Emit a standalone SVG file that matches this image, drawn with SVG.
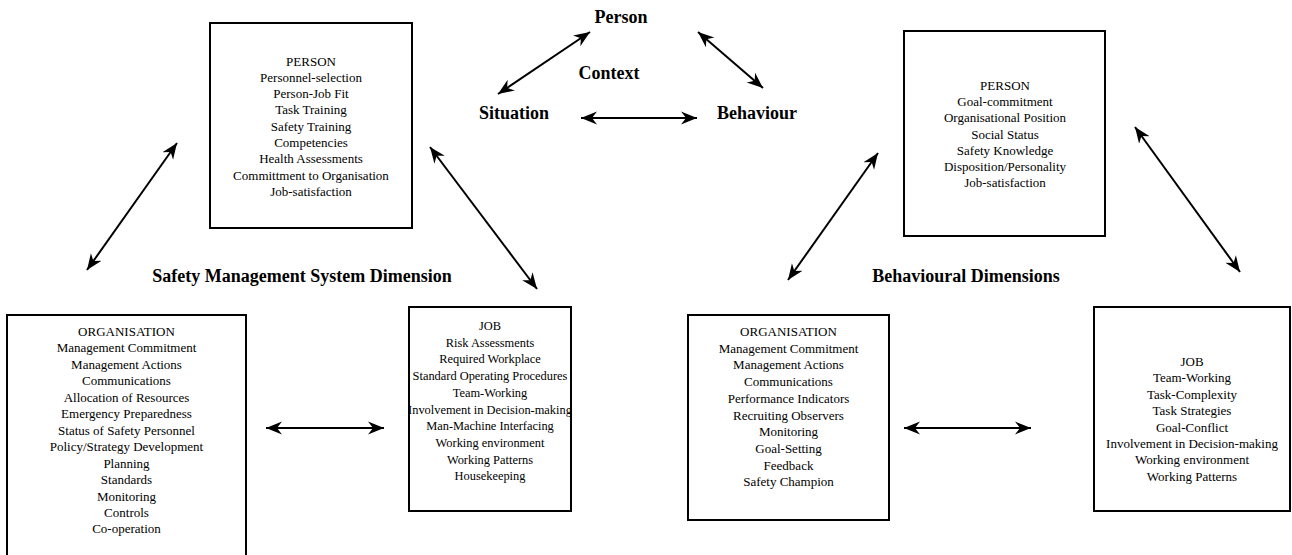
<svg xmlns="http://www.w3.org/2000/svg" width="1292" height="555" viewBox="0 0 1292 555">
<style>
.box{fill:#fff;stroke:#000;stroke-width:2}
.t{font-family:"Liberation Serif","Times New Roman",serif;font-size:13px;fill:#000;text-anchor:middle}
.s{font-size:12.4px}
.b{font-family:"Liberation Serif","Times New Roman",serif;font-size:18px;font-weight:bold;fill:#000;text-anchor:middle}
.c{stroke:#000;stroke-width:2;fill:none;marker-start:url(#ah);marker-end:url(#ah)}
</style>
<defs>
<marker id="ah" markerUnits="userSpaceOnUse" markerWidth="17" markerHeight="15" refX="16" refY="7.5" orient="auto-start-reverse">
<path d="M0,1 L16,7.5 L0,14 L5,7.5 z" fill="#000"/>
</marker>
</defs>
<rect width="1292" height="555" fill="#fff"/>

<g id="labels">
<text class="b" x="621" y="23">Person</text>
<text class="b" x="609" y="79">Context</text>
<text class="b" x="514" y="119">Situation</text>
<text class="b" x="757" y="119">Behaviour</text>
<text class="b" x="302" y="282">Safety Management System Dimension</text>
<text class="b" x="966" y="282">Behavioural Dimensions</text>
</g>

<g id="sms-person">
<rect class="box" x="210" y="23" width="202" height="205"/>
<text class="t" x="311" y="65.5">PERSON</text>
<text class="t" x="311" y="81.8">Personnel-selection</text>
<text class="t" x="311" y="98.1">Person-Job Fit</text>
<text class="t" x="311" y="114.4">Task Training</text>
<text class="t" x="311" y="130.7">Safety Training</text>
<text class="t" x="311" y="147">Competencies</text>
<text class="t" x="311" y="163.3">Health Assessments</text>
<text class="t" x="311" y="179.6">Committment to Organisation</text>
<text class="t" x="311" y="195.9">Job-satisfaction</text>
</g>

<g id="sms-organisation">
<rect class="box" x="7" y="315" width="239" height="250"/>
<text class="t" x="126.5" y="336">ORGANISATION</text>
<text class="t" x="126.5" y="352.45">Management Commitment</text>
<text class="t" x="126.5" y="368.9">Management Actions</text>
<text class="t" x="126.5" y="385.35">Communications</text>
<text class="t" x="126.5" y="401.8">Allocation of Resources</text>
<text class="t" x="126.5" y="418.25">Emergency Preparedness</text>
<text class="t" x="126.5" y="434.7">Status of Safety Personnel</text>
<text class="t" x="126.5" y="451.15">Policy/Strategy Development</text>
<text class="t" x="126.5" y="467.6">Planning</text>
<text class="t" x="126.5" y="484.05">Standards</text>
<text class="t" x="126.5" y="500.5">Monitoring</text>
<text class="t" x="126.5" y="516.95">Controls</text>
<text class="t" x="126.5" y="533.4">Co-operation</text>
</g>

<g id="sms-job">
<rect class="box" x="409" y="307" width="162" height="204"/>
<text class="t s" x="490" y="330">JOB</text>
<text class="t s" x="490" y="346.7">Risk Assessments</text>
<text class="t s" x="490" y="363.4">Required Workplace</text>
<text class="t s" x="490" y="380.1">Standard Operating Procedures</text>
<text class="t s" x="490" y="396.8">Team-Working</text>
<text class="t s" x="490" y="413.5">Involvement in Decision-making</text>
<text class="t s" x="490" y="430.2">Man-Machine Interfacing</text>
<text class="t s" x="490" y="446.9">Working environment</text>
<text class="t s" x="490" y="463.6">Working Patterns</text>
<text class="t s" x="490" y="480.3">Housekeeping</text>
</g>

<g id="beh-person">
<rect class="box" x="904" y="31" width="201" height="205"/>
<text class="t" x="1005" y="90">PERSON</text>
<text class="t" x="1005" y="106.2">Goal-commitment</text>
<text class="t" x="1005" y="122.4">Organisational Position</text>
<text class="t" x="1005" y="138.6">Social Status</text>
<text class="t" x="1005" y="154.8">Safety Knowledge</text>
<text class="t" x="1005" y="171">Disposition/Personality</text>
<text class="t" x="1005" y="187.2">Job-satisfaction</text>
</g>

<g id="beh-organisation">
<rect class="box" x="688" y="315" width="201" height="205"/>
<text class="t" x="788.5" y="336">ORGANISATION</text>
<text class="t" x="788.5" y="352.7">Management Commitment</text>
<text class="t" x="788.5" y="369.4">Management Actions</text>
<text class="t" x="788.5" y="386.1">Communications</text>
<text class="t" x="788.5" y="402.8">Performance Indicators</text>
<text class="t" x="788.5" y="419.5">Recruiting Observers</text>
<text class="t" x="788.5" y="436.2">Monitoring</text>
<text class="t" x="788.5" y="452.9">Goal-Setting</text>
<text class="t" x="788.5" y="469.6">Feedback</text>
<text class="t" x="788.5" y="486.3">Safety Champion</text>
</g>

<g id="beh-job">
<rect class="box" x="1094" y="307" width="196" height="204"/>
<text class="t" x="1192" y="366">JOB</text>
<text class="t" x="1192" y="382.4">Team-Working</text>
<text class="t" x="1192" y="398.8">Task-Complexity</text>
<text class="t" x="1192" y="415.2">Task Strategies</text>
<text class="t" x="1192" y="431.6">Goal-Conflict</text>
<text class="t" x="1192" y="448">Involvement in Decision-making</text>
<text class="t" x="1192" y="464.4">Working environment</text>
<text class="t" x="1192" y="480.8">Working Patterns</text>
</g>

<g id="connectors">
<line class="c" x1="498" y1="94" x2="590" y2="32"/>
<line class="c" x1="698" y1="32" x2="763" y2="88"/>
<line class="c" x1="581" y1="118" x2="697" y2="118"/>
<line class="c" x1="87" y1="270" x2="177" y2="143"/>
<line class="c" x1="430" y1="147" x2="537" y2="289"/>
<line class="c" x1="266" y1="428" x2="384" y2="428"/>
<line class="c" x1="788" y1="280" x2="878" y2="153"/>
<line class="c" x1="1135" y1="127" x2="1240" y2="272"/>
<line class="c" x1="904" y1="428" x2="1031" y2="428"/>
</g>
</svg>
